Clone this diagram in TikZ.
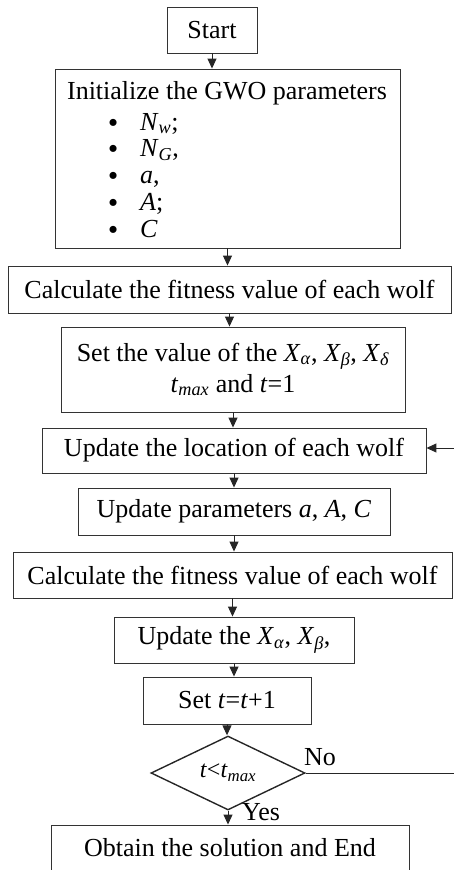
\documentclass[tikz,border=0pt]{standalone}
\usepackage{fontspec}
\setmainfont{Liberation Serif}
\usetikzlibrary{arrows.meta,shapes.geometric}
\newcommand{\sbi}[1]{\textsubscript{\textit{#1}}}
\newcommand{\bulitem}{\makebox[31.5pt][l]{\raisebox{-1pt}{\textbf{•}}}}
\begin{document}
\begin{tikzpicture}[x=1pt,y=-1pt,
  box/.style={draw=black!80, line width=0.9pt, inner sep=0pt, align=center, font=\fontsize{26}{31}\selectfont},
  dia/.style={diamond, draw=black!85, line width=1.4pt, inner sep=0pt, font=\fontsize{24}{28}\selectfont},
  arr/.style={draw=black!85, line width=1pt, -{Triangle[length=10pt,width=9pt]}},
  lbl/.style={font=\fontsize{26}{30}\selectfont, inner sep=0pt}
]
\useasboundingbox (0,0) rectangle (454,870);
\clip (0,0) rectangle (454,870);

\node[box, minimum width=90, minimum height=46] (start) at (212,30) {Start};
\node[box, minimum width=345, minimum height=179] (init) at (227.5,158.5) {};
\node[lbl] (initt) at (227,93) {Initialize the GWO parameters};
\node[lbl, anchor=north west, align=left, font=\fontsize{26}{26.75}\selectfont] (plist) at (108.5,113) {%
\bulitem\textit{N}\sbi{w};\\
\bulitem\textit{N}\sbi{G},\\
\bulitem\textit{a},\\
\bulitem\textit{A};\\
\bulitem\textit{C}};

\node[box, minimum width=443, minimum height=47] (calc1) at (229.5,289.5) {Calculate the fitness value of each wolf};
\node[box, minimum width=344, minimum height=85] (setv) at (233,369.5) {Set the value of the \textit{X}\sbi{α}, \textit{X}\sbi{β}, \textit{X}\sbi{δ}\\ \textit{t}\sbi{max} and \textit{t}=1};
\node[box, minimum width=384, minimum height=45] (upd) at (234,450.5) {Update the location of each wolf};
\node[box, minimum width=312, minimum height=47] (par) at (234,511.5) {Update parameters \textit{a}, \textit{A}, \textit{C}};
\node[box, minimum width=439, minimum height=46] (calc2) at (232.5,575) {Calculate the fitness value of each wolf};
\node[box, minimum width=240, minimum height=46] (updx) at (234,640) {Update the \textit{X}\sbi{α}, \textit{X}\sbi{β},};
\node[box, minimum width=168, minimum height=47] (sett) at (227,700.5) {Set \textit{t}=\textit{t}+1};
\node[dia, minimum width=154, minimum height=60] (cond) at (228,773) {\textit{t}<\textit{t}\sbi{max}};
\node[box, minimum width=358, minimum height=46] (fin) at (230,848) {Obtain the solution and End};

\node[lbl] (no) at (320,757) {No};
\node[lbl] (yes) at (261,812) {Yes};

\coordinate (noend) at (455,773);
\coordinate (loopin) at (455,448);

\draw[arr] (start.south) -- (start.south |- init.north);
\draw[arr] (init.south) -- (init.south |- calc1.north);
\draw[arr] (calc1.south) -- (calc1.south |- setv.north);
\draw[arr] (setv.south) -- (setv.south |- upd.north);
\draw[arr] (upd.south) -- (upd.south |- par.north);
\draw[arr] (par.south) -- (par.south |- calc2.north);
\draw[arr] (calc2.south) -- (calc2.south |- updx.north);
\draw[arr] (updx.south) -- (updx.south |- sett.north);
\draw[arr] (sett.south) -- (sett.south |- cond.north);
\draw[arr] (cond.south) -- (cond.south |- fin.north);
\draw[draw=black!85, line width=1pt] (cond.east) -- (noend);
\draw[arr] (loopin) -- (upd.east |- loopin);
\end{tikzpicture}
\end{document}
